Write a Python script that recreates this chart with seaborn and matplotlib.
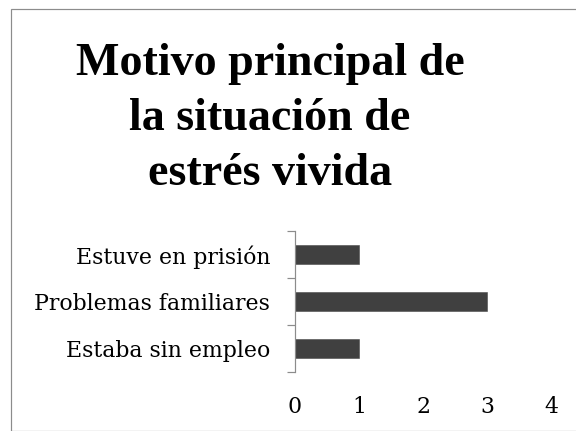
import matplotlib
matplotlib.use("Agg")
import matplotlib.pyplot as plt
import seaborn as sns
from matplotlib.patches import Rectangle
from matplotlib.ticker import FixedLocator

categories = ["Estuve en prisión", "Problemas familiares", "Estaba sin empleo"]
values = [1, 3, 1]
xticks = [0, 1, 2, 3, 4]
title_lines = ["Motivo principal de", "la situación de", "estrés vivida"]

sns.set_style("white")
plt.rcParams["font.family"] = ["DejaVu Serif"]
plt.rcParams["text.color"] = "black"
plt.rcParams["xtick.color"] = "black"
plt.rcParams["ytick.color"] = "black"

W, H = 576, 431
fig = plt.figure(figsize=(W / 72, H / 72), dpi=72)

# chart-area frame
fig.patches.append(Rectangle((11 / W, 0), 1.2, 1 - 9 / H, transform=fig.transFigure,
                             fill=False, edgecolor="#8c8c8c", linewidth=1.2))

ax = fig.add_axes([295 / W, 1 - 372 / H, 256 / W, 141 / H])
sns.barplot(x=values, y=categories, orient="h", color="#404040", width=0.4,
            saturation=1, edgecolor="#404040", linewidth=0.5, ax=ax)

ax.set_xlim(0, 4)
ax.set_ylim(2.5, -0.5)
ax.set_xticks(xticks)
ax.set_xticklabels([str(t) for t in xticks], fontsize=22, color="black")
ax.tick_params(axis="x", length=0, pad=24)
ax.tick_params(axis="y", which="major", left=False, length=0, pad=25, labelsize=22,
               labelcolor="black")
ax.yaxis.set_minor_locator(FixedLocator([-0.5, 0.5, 1.5, 2.5]))
ax.tick_params(axis="y", which="minor", left=True, length=8, width=1.2,
               color="#8c8c8c", direction="out")
for s in ["top", "right", "bottom"]:
    ax.spines[s].set_visible(False)
ax.spines["left"].set_color("#8c8c8c")
ax.spines["left"].set_linewidth(1.2)
ax.set_xlabel("")
ax.set_ylabel("")

# three-line bold title
for line, base in zip(title_lines, [75, 130, 185]):
    fig.text(270 / W, 1 - base / H, line, ha="center", va="baseline", fontsize=46,
             fontweight="bold", color="black", family="Liberation Serif")

fig.savefig("out.png", dpi=72)
